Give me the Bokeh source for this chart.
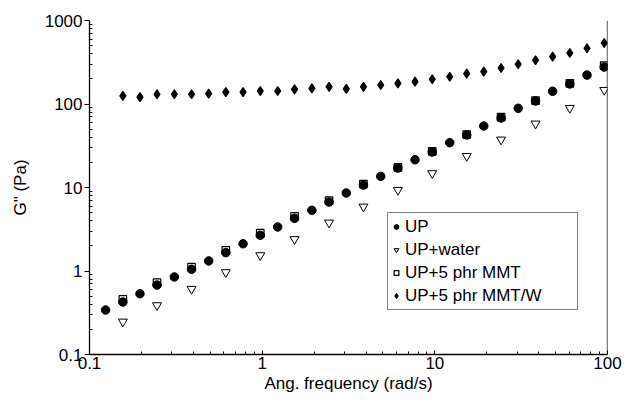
from bokeh.plotting import figure
from bokeh.models import (FixedTicker, CustomJSTickFormatter, Span, Legend, LegendItem, Range1d)
from bokeh.embed import file_html
from bokeh.resources import INLINE

# ---- data ----
freq_up = [0.124, 0.156, 0.196, 0.246, 0.310, 0.390, 0.490, 0.616, 0.775, 0.975,
           1.23, 1.54, 1.94, 2.44, 3.07, 3.86, 4.86, 6.11, 7.68, 9.66,
           12.2, 15.3, 19.2, 24.2, 30.4, 38.3, 48.1, 60.5, 76.1, 95.7]
g_up = [0.341, 0.425, 0.535, 0.679, 0.848, 1.05, 1.32, 1.66, 2.12, 2.68,
        3.37, 4.28, 5.33, 6.70, 8.59, 10.7, 13.6, 17.1, 21.5, 26.6,
        34.4, 42.5, 54.5, 68.0, 88.8, 108.6, 142, 174, 222, 277]

freq_water = [0.156, 0.246, 0.390, 0.616, 0.975, 1.54, 2.44, 3.86, 6.11, 9.66,
              15.3, 24.2, 38.3, 60.5, 95.7]
g_water = [0.247, 0.388, 0.609, 0.965, 1.54, 2.40, 3.79, 5.89, 9.33, 14.8,
           23.8, 37.4, 58.1, 89.5, 147]

freq_mmt = [0.156, 0.246, 0.390, 0.616, 0.975, 1.54, 2.44, 3.86, 6.11, 9.66,
            15.3, 24.2, 38.3, 60.5, 95.7]
g_mmt = [0.458, 0.725, 1.11, 1.77, 2.84, 4.50, 6.95, 11.0, 17.4, 27.1,
         43.0, 69.5, 110, 177, 288]

freq_mmtw = [0.156, 0.196, 0.246, 0.310, 0.390, 0.490, 0.616, 0.775, 0.975,
             1.23, 1.54, 1.94, 2.44, 3.07, 3.86, 4.86, 6.11, 7.68, 9.66,
             12.2, 15.3, 19.2, 24.2, 30.4, 38.3, 48.1, 60.5, 76.1, 95.7]
g_mmtw = [125, 121, 131, 131, 131, 133, 139, 139, 143,
          143, 150, 154, 160, 152, 160, 169, 177, 185, 198,
          212, 231, 244, 270, 299, 334, 369, 408, 465, 538]

x_ticks = [0.1, 1, 10, 100]
y_ticks = [0.1, 1, 10, 100, 1000]
labels = ["UP", "UP+water", "UP+5 phr MMT", "UP+5 phr MMT/W"]

FONT = "Liberation Sans"
FS = "17px"

p = figure(x_axis_type="log", y_axis_type="log",
           x_range=Range1d(0.1, 100), y_range=Range1d(0.1, 1000),
           frame_width=518, frame_height=334,
           min_border_left=89, min_border_top=20, min_border_right=16, min_border_bottom=40,
           output_backend="svg", toolbar_location=None)
p.outline_line_color = None
p.grid.visible = False
p.background_fill_color = "white"
p.border_fill_color = "white"

def minor(decs):
    out = []
    for d in decs:
        for m in range(2, 10):
            out.append(m * d)
    return out

p.xaxis.ticker = FixedTicker(ticks=x_ticks, minor_ticks=minor([0.1, 1, 10]))
p.yaxis.ticker = FixedTicker(ticks=y_ticks, minor_ticks=minor([0.1, 1, 10, 100]))
fmt = CustomJSTickFormatter(code="return String(tick);")
p.xaxis.formatter = fmt
p.yaxis.formatter = fmt

for ax in (p.xaxis[0], p.yaxis[0]):
    ax.axis_line_color = "black"
    ax.axis_line_width = 1.3
    ax.major_tick_line_color = "black"
    ax.minor_tick_line_color = "black"
    ax.major_label_text_font = FONT
    ax.major_label_text_font_size = FS
    ax.major_label_text_color = "black"
    ax.axis_label_text_font = FONT
    ax.axis_label_text_font_size = FS
    ax.axis_label_text_font_style = "normal"
    ax.axis_label_text_color = "black"
    ax.minor_tick_in = 3
    ax.minor_tick_out = 0

p.xaxis.major_tick_in = 4
p.xaxis.major_tick_out = 0
p.xaxis.major_label_standoff = 2
p.xaxis.axis_label = "Ang. frequency (rad/s)"
p.xaxis.axis_label_standoff = 2

p.yaxis.major_tick_in = 0
p.yaxis.major_tick_out = 5
p.yaxis.major_label_standoff = 2
p.yaxis.axis_label = 'G" (Pa)'
p.yaxis.axis_label_standoff = 12

# right frame line
p.add_layout(Span(location=100, dimension="height", line_color="black", line_width=1.3))

r_mmt = p.scatter(freq_mmt, g_mmt, marker="square", size=7.5, fill_color="white",
                  line_color="black", line_width=1.2)
r_up = p.scatter(freq_up, g_up, marker="circle", size=8.5, fill_color="black",
                 line_color="black")
r_water = p.scatter(freq_water, g_water, marker="inverted_triangle", size=9,
                    fill_color="white", line_color="black", line_width=1)
r_mmtw = p.scatter(freq_mmtw, g_mmtw, marker="diamond", size=9,
                   fill_color="black", line_color="black", line_width=1.2)

legend = Legend(items=[LegendItem(label=labels[0], renderers=[r_up]),
                       LegendItem(label=labels[1], renderers=[r_water]),
                       LegendItem(label=labels[2], renderers=[r_mmt]),
                       LegendItem(label=labels[3], renderers=[r_mmtw])],
                location=(298, 44))
legend.label_text_font = FONT
legend.label_text_font_size = FS
legend.label_text_color = "black"
legend.border_line_color = "black"
legend.border_line_width = 1
legend.background_fill_alpha = 1
legend.padding = 2
legend.spacing = 0
legend.margin = 0
legend.label_height = 23
legend.glyph_height = 23
legend.glyph_width = 12
legend.label_width = 170
legend.label_standoff = 3
p.add_layout(legend, "center")

open("out.html", "w").write(file_html(p, INLINE))
